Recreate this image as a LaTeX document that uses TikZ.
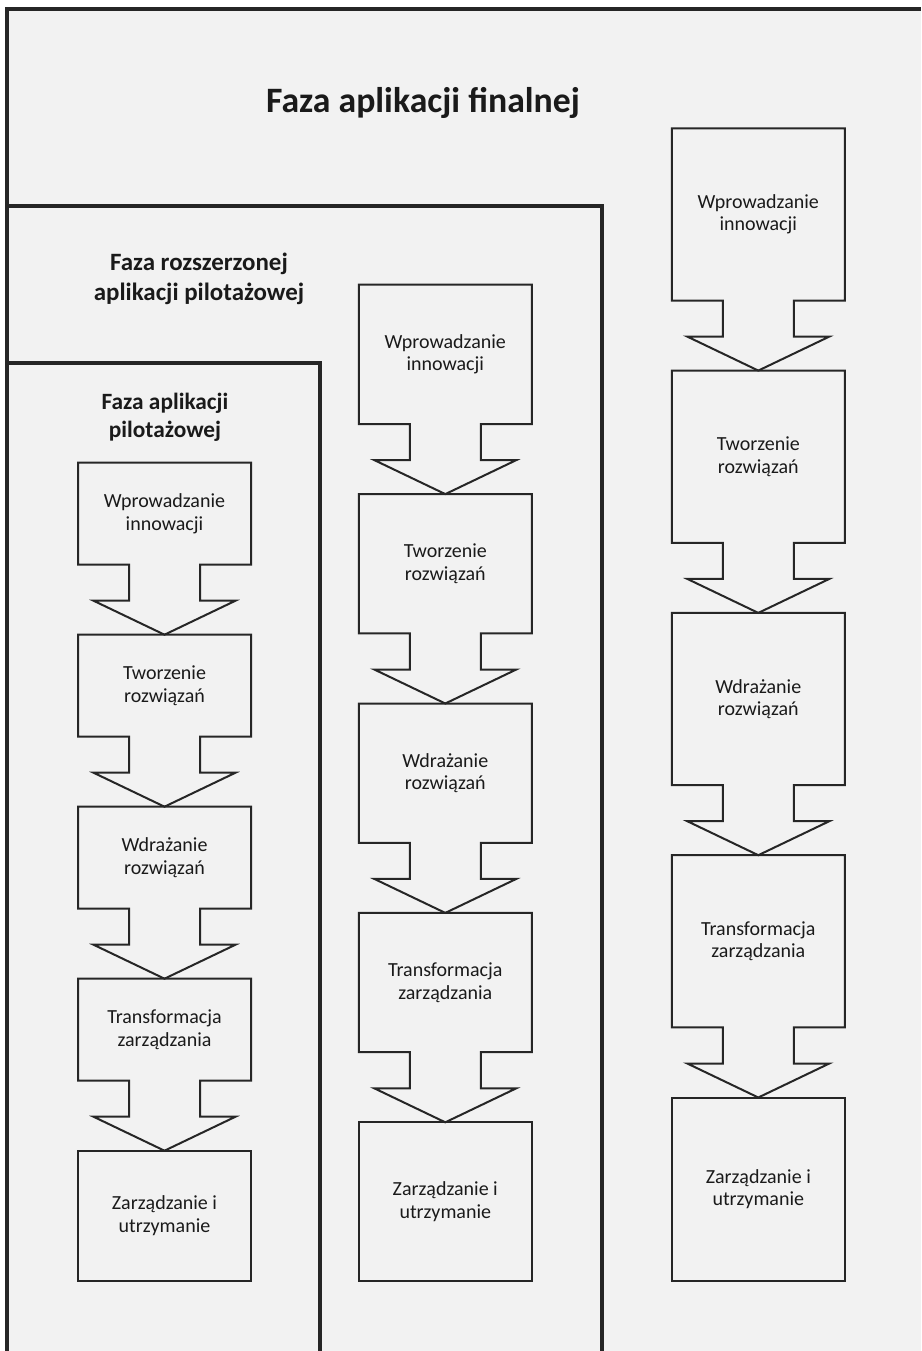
\documentclass[tikz,border=0pt]{standalone}
\usepackage{fontspec}
\setmainfont{Carlito}
\usetikzlibrary{calc}
\definecolor{bgc}{HTML}{F2F2F2}
\definecolor{linec}{HTML}{262626}
\definecolor{textc}{HTML}{1A1A1A}
\tikzset{
  frameline/.style={draw=linec, line width=2.3pt},
  stepline/.style={draw=linec, line width=1.5pt, line join=miter},
  stepbox/.style={inner sep=0pt, outer sep=0pt, minimum width=129.75pt, anchor=north,
     align=center, text=textc, font=\fontsize{15}{17}\selectfont},
  lastbox/.style={stepbox, draw=linec, line width=1.5pt},
  hL/.style={minimum height=76.5pt},
  hM/.style={minimum height=104.5pt},
  hR/.style={minimum height=129.2pt},
  titlebig/.style={font=\bfseries\fontsize{26.8}{30}\selectfont, text=textc, inner sep=0pt},
  titlemid/.style={font=\bfseries\fontsize{18.7}{22}\selectfont, text=textc, align=center, inner sep=0pt},
  titlesmall/.style={font=\bfseries\fontsize{17.5}{21.2}\selectfont, text=textc, align=center, inner sep=0pt},
}
\newcommand{\stepoutline}[2]{%
  \draw[stepline] (#1.south west) -- (#1.north west) -- (#1.north east) -- (#1.south east)
    -- ($(#1.south)+(35.5,0)$) -- ($(#2.north)+(35.5,-34)$) -- ($(#2.north)+(71,-34)$)
    -- (#2.north) -- ($(#2.north)+(-71,-34)$) -- ($(#2.north)+(-35.5,-34)$)
    -- ($(#1.south)+(-35.5,0)$) -- cycle;}
\begin{document}
\begin{tikzpicture}[x=0.75pt,y=-0.75pt]
\useasboundingbox (0,0) rectangle (921,1351);
\fill[white] (0,0) rectangle (921,1351);
\fill[bgc] (7,9) rectangle (921,1351);
% frames
\draw[frameline] (7,1351) -- (7,9) -- (921,9);
\draw[frameline] (7,206) -- (602,206) -- (602,1351);
\draw[frameline] (7,363) -- (320,363) -- (320,1351);
% titles
\node[titlebig, anchor=base] (T0) at (423,113) {Faza aplikacji finalnej};
\node[titlemid] (T1) at (199,279) {Faza rozszerzonej\\aplikacji pilotażowej};
\node[titlesmall] (T2) at (165,417) {Faza aplikacji\\pilotażowej};
% left column
\node[stepbox,hL] (L1) at (164.5,462.7) {Wprowadzanie\\innowacji};
\node[stepbox,hL] (L2) at (164.5,634.7) {Tworzenie\\rozwiązań};
\node[stepbox,hL] (L3) at (164.5,806.7) {Wdrażanie\\rozwiązań};
\node[stepbox,hL] (L4) at (164.5,978.7) {Transformacja\\zarządzania};
\node[lastbox,minimum height=97.7pt] (L5) at (164.5,1150.7) {Zarządzanie i\\utrzymanie};
\stepoutline{L1}{L2}
\stepoutline{L2}{L3}
\stepoutline{L3}{L4}
\stepoutline{L4}{L5}
% middle column
\node[stepbox,hM] (M1) at (445.3,284.7) {Wprowadzanie\\innowacji};
\node[stepbox,hM] (M2) at (445.3,494.1) {Tworzenie\\rozwiązań};
\node[stepbox,hM] (M3) at (445.3,703.5) {Wdrażanie\\rozwiązań};
\node[stepbox,hM] (M4) at (445.3,912.9) {Transformacja\\zarządzania};
\node[lastbox,minimum height=118.8pt] (M5) at (445.3,1122.3) {Zarządzanie i\\utrzymanie};
\stepoutline{M1}{M2}
\stepoutline{M2}{M3}
\stepoutline{M3}{M4}
\stepoutline{M4}{M5}
% right column
\node[stepbox,hR] (R1) at (758.3,128.3) {Wprowadzanie\\innowacji};
\node[stepbox,hR] (R2) at (758.3,370.6) {Tworzenie\\rozwiązań};
\node[stepbox,hR] (R3) at (758.3,612.9) {Wdrażanie\\rozwiązań};
\node[stepbox,hR] (R4) at (758.3,855.2) {Transformacja\\zarządzania};
\node[lastbox,minimum height=137.4pt] (R5) at (758.3,1097.5) {Zarządzanie i\\utrzymanie};
\stepoutline{R1}{R2}
\stepoutline{R2}{R3}
\stepoutline{R3}{R4}
\stepoutline{R4}{R5}
\end{tikzpicture}
\end{document}
